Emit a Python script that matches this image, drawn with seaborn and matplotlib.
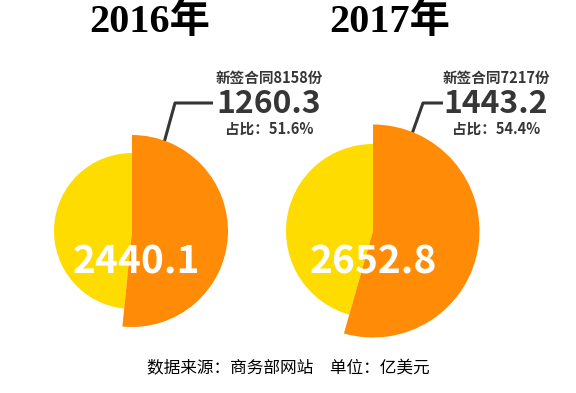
import matplotlib
matplotlib.use("Agg")
import matplotlib.pyplot as plt
import seaborn as sns

# data (亿美元)
years = ["2016年", "2017年"]
totals = [2440.1, 2652.8]
new_values = [1260.3, 1443.2]
new_counts = [8158, 7217]
shares = [51.6, 54.4]
source_note = "数据来源：商务部网站\u3000单位：亿美元"

# layout in pixels (origin top-left)
W, H = 576, 393
centers = [(132, 231), (373, 231)]
outer_r = [96, 106.5]
inner_r = [78, 87]
title_pos = [(150, 22), (390, 22)]
label_x = [269, 496]
lines = [[(162, 150), (175, 103), (213, 103)],
         [(407, 148), (423, 103), (443, 103)]]

sns.set_theme(style="white")
plt.rcParams["font.family"] = ["Noto Sans CJK SC", "DejaVu Sans"]
orange, yellow = "#FF8B06", "#FFDC00"
dark = "#363636"

fig = plt.figure(figsize=(W / 100, H / 100), dpi=100)
ax = fig.add_axes([0, 0, 1, 1])


def py(y):
    return H - y


for i in range(len(years)):
    cx, cy = centers[i]
    share = shares[i] / 100
    wedges, _ = ax.pie([share, 1 - share], colors=[orange, yellow],
                       startangle=90, counterclock=False,
                       center=(cx, py(cy)), radius=outer_r[i], frame=True,
                       wedgeprops=dict(linewidth=0))
    wedges[0].set_zorder(3)
    wedges[1].set_zorder(2)
    wedges[1].set_radius(inner_r[i])

    # leader line
    xs = [p[0] for p in lines[i]]
    ys = [py(p[1]) for p in lines[i]]
    ax.plot(xs, ys, color=dark, lw=2.2, zorder=1, solid_capstyle="butt")

    # year title
    ax.text(title_pos[i][0], py(title_pos[i][1]), years[i],
            family=["Liberation Serif", "Noto Sans CJK SC"],
            fontsize=29, fontweight="bold", color="black",
            ha="center", va="center")

    # total in the middle
    ax.text(cx + (4 if i == 0 else 0), py(262), f"{totals[i]:.1f}",
            fontsize=28, fontweight="bold", color="white",
            ha="center", va="center", zorder=5)

    # annotation
    lx = label_x[i]
    ax.text(lx, py(78), f"新签合同{new_counts[i]}份", fontsize=10.5,
            fontweight="bold", color=dark, ha="center", va="center")
    ax.text(lx, py(104), f"{new_values[i]:.1f}", fontsize=23,
            fontweight="bold", color=dark, ha="center", va="center")
    ax.text(lx, py(129), f"占比：{shares[i]:.1f}%", fontsize=10.5,
            fontweight="bold", color=dark, ha="center", va="center")

ax.text(288, py(369), source_note, fontsize=12, color="black",
        ha="center", va="center")

ax.set_xlim(0, W)
ax.set_ylim(0, H)
ax.set_aspect("equal")
ax.axis("off")
fig.savefig("out.png", dpi=100, facecolor="white")
